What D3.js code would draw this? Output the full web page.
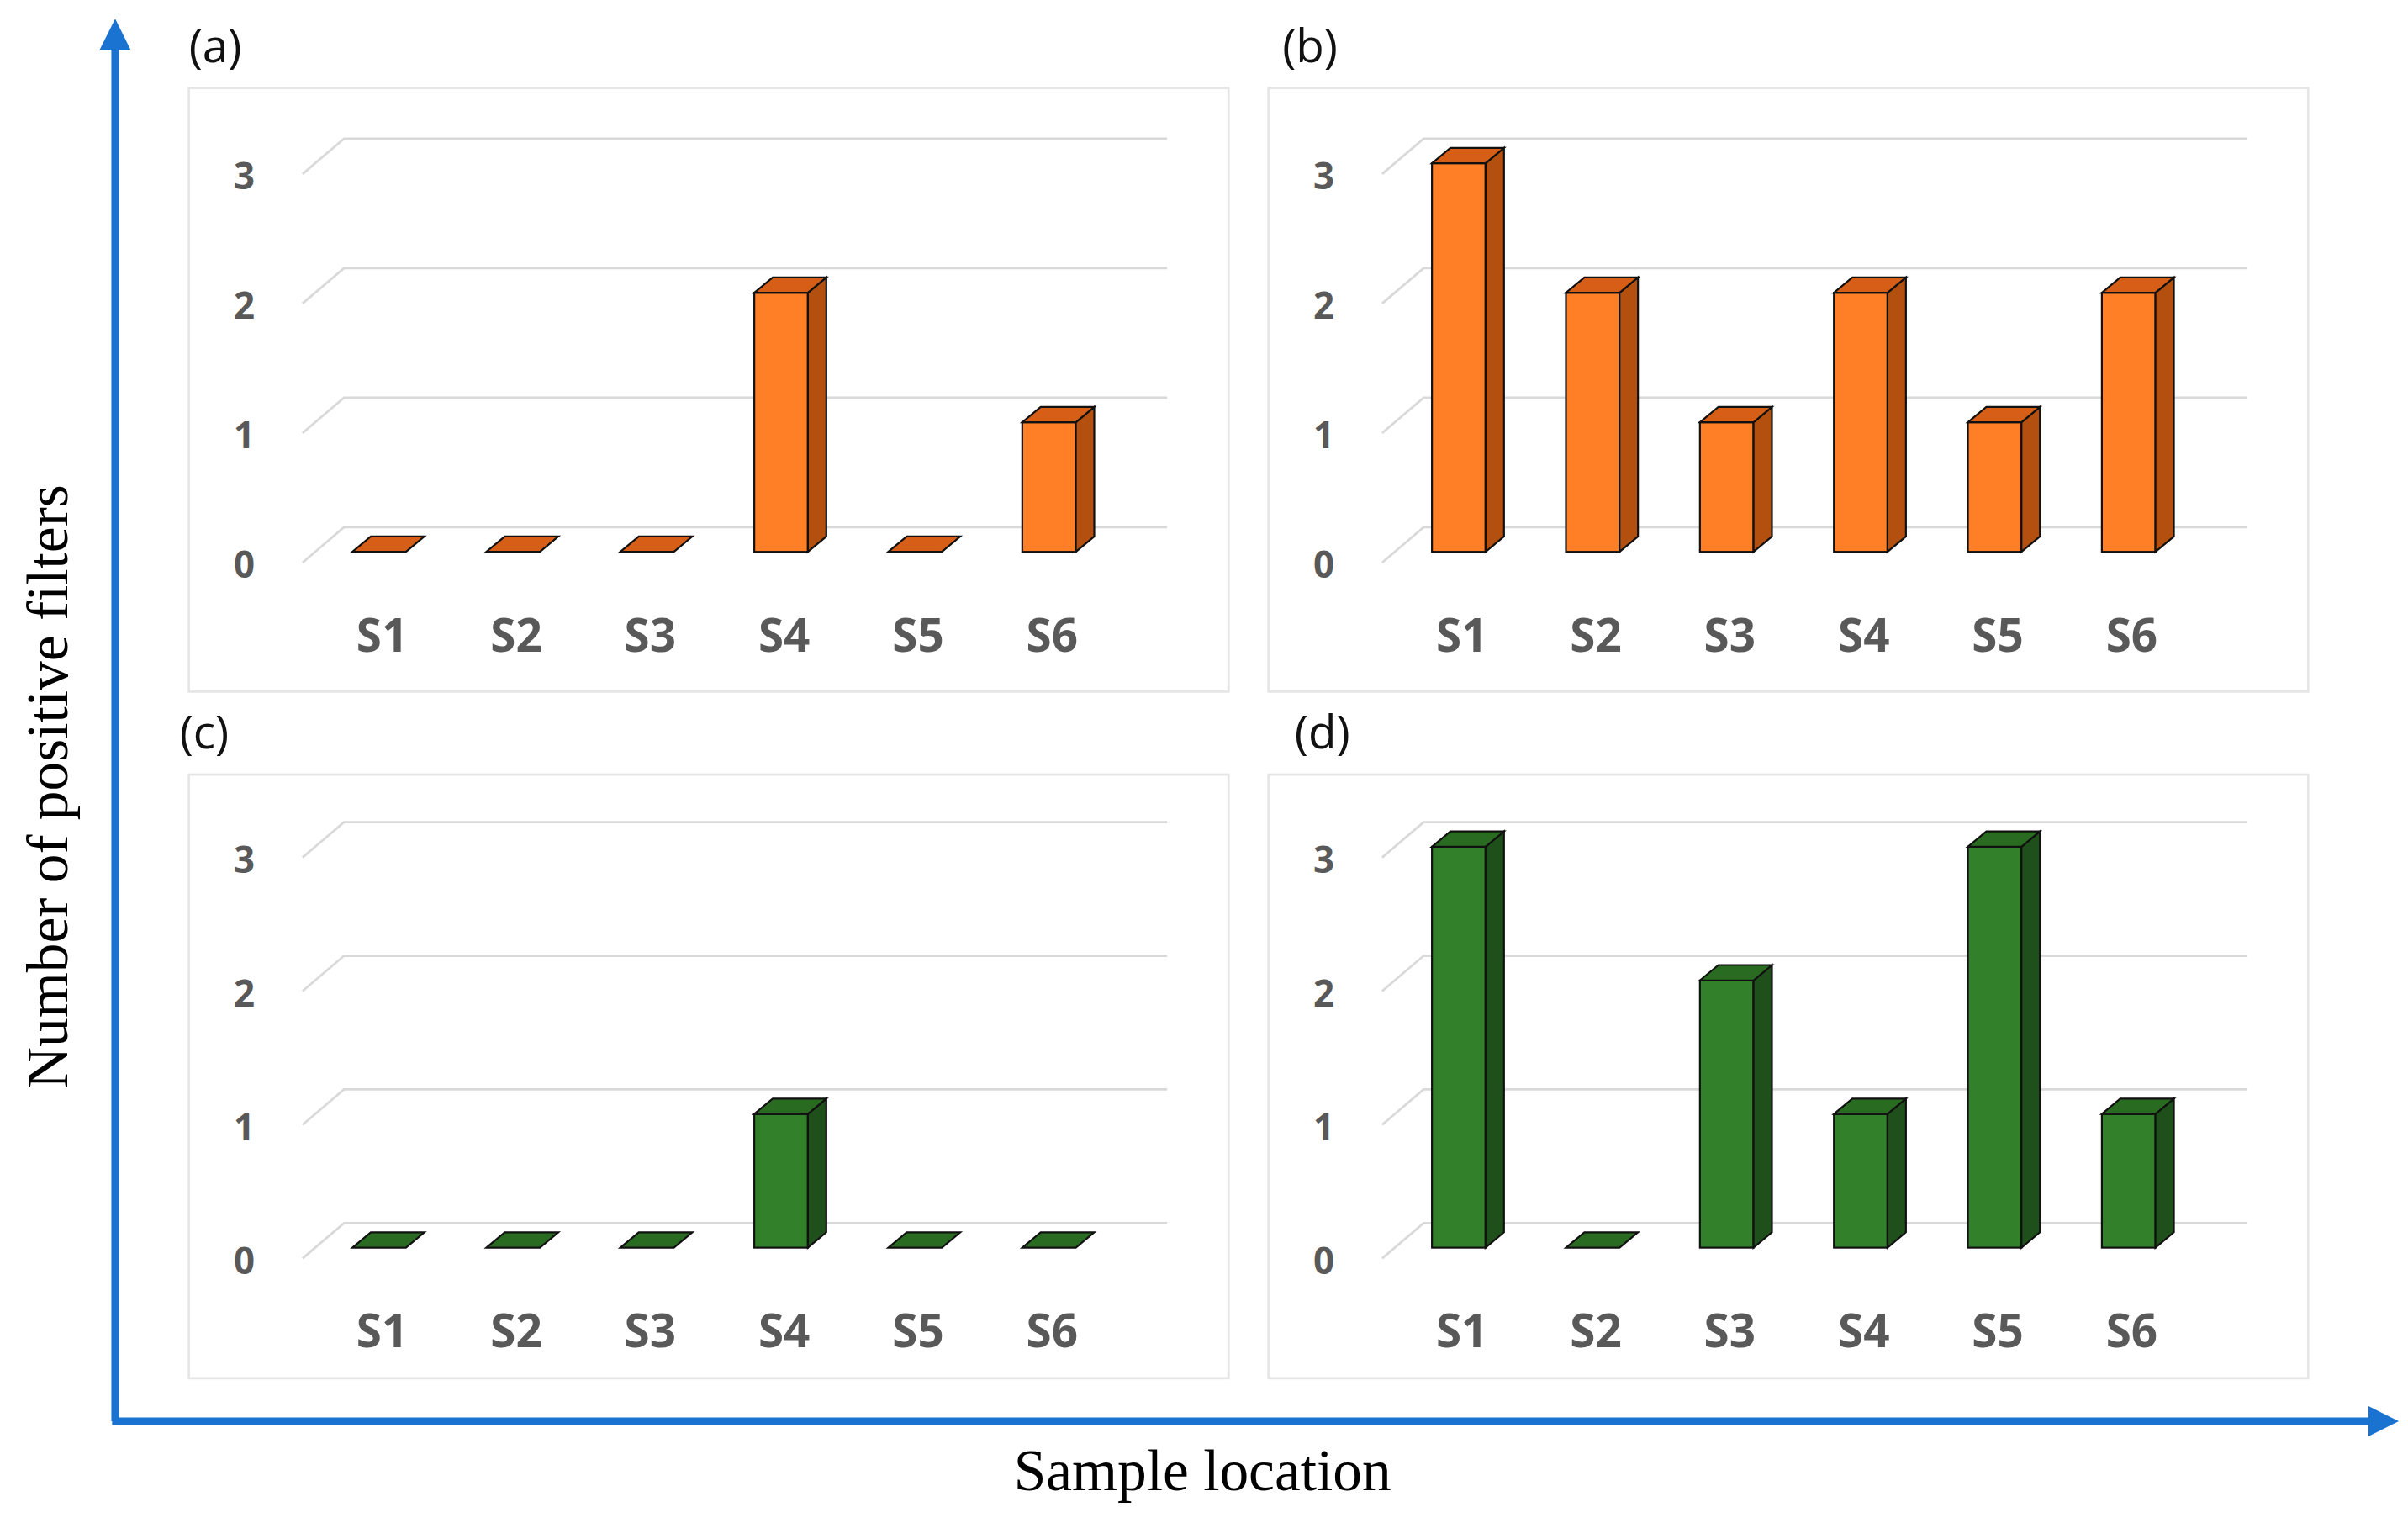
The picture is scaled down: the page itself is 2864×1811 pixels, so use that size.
<!doctype html>
<html>
<head>
<meta charset="utf-8">
<script src="https://d3js.org/d3.v7.min.js"></script>
<style>
  body { margin: 0; background: #fff; }
</style>
</head>
<body>
<div id="chart"></div>
<script>
// data
var categories = ["S1", "S2", "S3", "S4", "S5", "S6"];
var panelA = [0, 0, 0, 2, 0, 1];
var panelB = [3, 2, 1, 2, 1, 2];
var panelC = [0, 0, 0, 1, 0, 0];
var panelD = [3, 0, 2, 1, 3, 1];
var yTicks = [0, 1, 2, 3];

var orange = {front: "#ff7f27", side: "#b4500f", top: "#d65e16"};
var green = {front: "#32802a", side: "#1f4f1a", top: "#2a6b22"};

var svg = d3.select("#chart").append("svg")
    .attr("width", 2864).attr("height", 1811)
    .attr("viewBox", "0 0 1568 991");

var blue = "#1a73d0";
var defs = svg.append("defs");
defs.append("marker").attr("id", "arr").attr("viewBox", "0 0 10 10")
    .attr("refX", 5).attr("refY", 5).attr("markerWidth", 4).attr("markerHeight", 4)
    .attr("orient", "auto")
  .append("path").attr("d", "M0,0 L10,5 L0,10 z").attr("fill", blue);

svg.append("line").attr("x1", 75).attr("y1", 925).attr("x2", 75).attr("y2", 22)
    .attr("stroke", blue).attr("stroke-width", 5).attr("marker-end", "url(#arr)");
svg.append("line").attr("x1", 73).attr("y1", 925).attr("x2", 1552).attr("y2", 925)
    .attr("stroke", blue).attr("stroke-width", 5).attr("marker-end", "url(#arr)");

svg.append("text").attr("transform", "translate(44,512) rotate(-90)")
    .attr("text-anchor", "middle").attr("font-family", "Liberation Serif")
    .attr("font-size", 38).text("Number of positive filters");
svg.append("text").attr("x", 783).attr("y", 970)
    .attr("text-anchor", "middle").attr("font-family", "Liberation Serif")
    .attr("font-size", 38).text("Sample location");

function panel(ox, oy, values, col, label, yRange, lx, ly) {
  svg.append("text").attr("x", lx).attr("y", ly).attr("font-family", "Open Sans")
      .attr("font-size", 30).attr("fill", "#111").text(label);
  var g = svg.append("g").attr("transform", "translate(" + ox + "," + oy + ")");
  g.append("rect").attr("x", 123).attr("y", 57).attr("width", 677).attr("height", 393)
      .attr("fill", "#fff").attr("stroke", "#e6e6e6").attr("stroke-width", 1.5);

  var x = d3.scaleBand().domain(categories).range([212, 718]).paddingInner(0.6).paddingOuter(0.2);
  var y = d3.scaleLinear().domain([0, 3]).range(yRange);
  var dx = 12, dy = -10;

  // back grid with perspective stubs
  yTicks.forEach(function(t) {
    var yy = y(t) - 16;
    g.append("path").attr("d", "M197," + (yy + 23) + " L224," + yy + " L760," + yy)
        .attr("fill", "none").attr("stroke", "#d9d9d9").attr("stroke-width", 1.5);
    g.append("text").attr("x", 159).attr("y", y(t) + 17).attr("text-anchor", "middle")
        .attr("font-family", "Open Sans").attr("font-weight", "bold")
        .attr("font-size", 24).attr("fill", "#595959").text(t);
  });

  categories.forEach(function(c, i) {
    g.append("text").attr("x", x(c) + x.bandwidth() / 2 + 2).attr("y", yRange[0] + 65)
        .attr("text-anchor", "middle").attr("font-family", "Open Sans").attr("font-weight", "bold")
        .attr("font-size", 30).attr("fill", "#595959").text(c);
  });

  var bars = g.selectAll("g.bar").data(values).enter().append("g");
  bars.each(function(v, i) {
    var b = d3.select(this);
    var x0 = x(categories[i]), w = x.bandwidth();
    var y0 = y(0), y1 = y(v);
    if (v > 0) {
      b.append("rect").attr("x", x0).attr("y", y1).attr("width", w).attr("height", y0 - y1)
          .attr("fill", col.front).attr("stroke", "#111").attr("stroke-width", 1.2);
      b.append("path").attr("d", "M" + (x0 + w) + "," + y1 + " l" + dx + "," + dy +
          " L" + (x0 + w + dx) + "," + (y0 + dy) + " L" + (x0 + w) + "," + y0 + "z")
          .attr("fill", col.side).attr("stroke", "#111").attr("stroke-width", 1.2);
    }
    b.append("path").attr("d", "M" + x0 + "," + y1 + " l" + dx + "," + dy +
        " l" + w + ",0 l" + (-dx) + "," + (-dy) + "z")
        .attr("fill", col.top).attr("stroke", "#111").attr("stroke-width", 1.2);
  });
}

panel(0, 0, panelA, orange, "(a)", [359, 106], 123, 40);
panel(703, 0, panelB, orange, "(b)", [359, 106], 835, 40);
panel(0, 447, panelC, green, "(c)", [365, 104], 117, 487);
panel(703, 447, panelD, green, "(d)", [365, 104], 843, 487);
</script>
</body>
</html>
